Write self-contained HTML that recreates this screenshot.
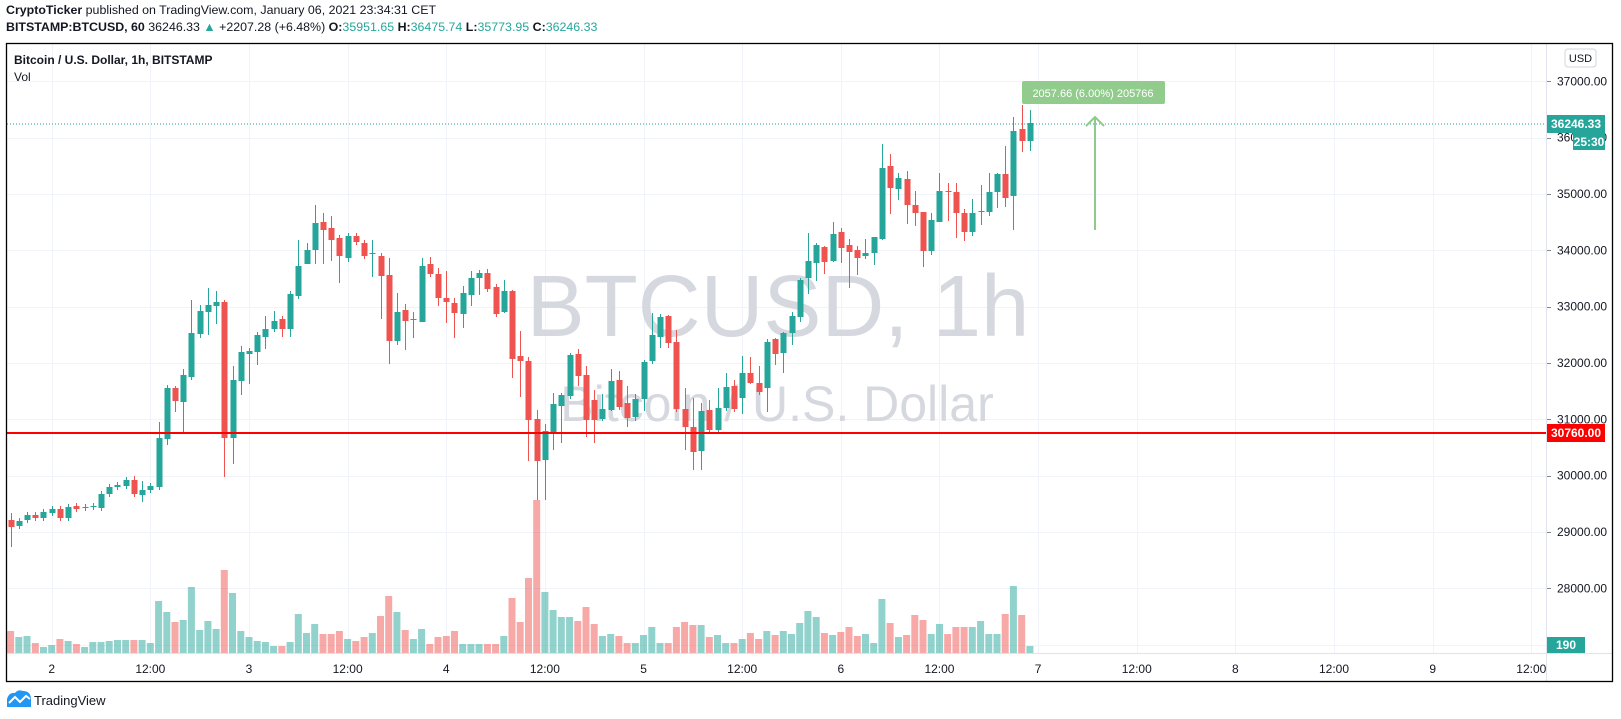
<!DOCTYPE html>
<html><head><meta charset="utf-8"><style>
html,body{margin:0;padding:0;background:#fff;width:1621px;height:719px;overflow:hidden;font-family:"Liberation Sans",sans-serif;color:#131722}
.hdr{position:absolute;left:6px;font-size:12.4px;white-space:nowrap}
.t{color:#26a69a}
</style></head><body>
<div class="hdr" style="top:3px"><b>CryptoTicker</b> published on TradingView.com, January 06, 2021 23:34:31 CET</div>
<div class="hdr" style="top:20px"><b>BITSTAMP:BTCUSD, 60</b> 36246.33 <span class="t">▲</span> +2207.28 (+6.48%) <b>O:</b><span class="t">35951.65</span> <b>H:</b><span class="t">36475.74</span> <b>L:</b><span class="t">35773.95</span> <b>C:</b><span class="t">36246.33</span></div>
<svg id="s" width="1621" height="719" style="position:absolute;left:0;top:0" xmlns="http://www.w3.org/2000/svg" font-family="Liberation Sans, sans-serif"></svg>
<script>
var G='#26a69a',R='#ef5350';
var C=[
[-5,520,527,513,547],[-4,526,521],[-3,520,515],[-2,515,518],[-1,518,512],[0,513,509],[1,509,518],[2,518,507],[3,506,509],[4,508,507],[5,507,506],[6,508,494],[7,494,487],[8,487,485],[9,486,480],[10,480,494,476],[11,495,490,481,502],[12,490,486],[13,487,438,422],[14,439,388,0,445],[15,388,401,386,412],[16,402,375,369,434],[17,377,333,300],[18,334,311,305,338],[19,312,305,288,335],[20,306,302,291,324],[21,302,438,300,477],[22,438,380,366,464],[23,381,352,346,395],[24,354,351,0,384],[25,352,335,0,365],[26,337,329,316,349],[27,329,321,311],[28,319,329,0,337],[29,329,294,0,337],[30,296,266,240],[31,264,250,243,263],[32,250,223,205,264],[33,222,230,213,264],[34,228,240,216,261],[35,238,256,0,283],
[36,258,236,0,262],[37,236,242],[38,243,256],[39,254,253,240,277],[40,256,276,253,319],[41,275,341,258,364],[42,341,312,293,345],[43,310,321,304,350],[44,320,319,312,338],[45,322,266,258,322],[46,264,274,257],[47,274,298,268,306],[48,298,302,271,323],[49,303,313,298,338],[50,314,293,286,328],[51,295,278,271,306],[52,278,273,0,295],[53,273,289,269],[54,287,314],[55,312,291,280,313],[56,291,359,290,378],[57,356,361,331,397],[58,361,420,357,461],[59,419,461,410,500],[60,460,431,424,500],[61,432,404,393,450],[62,406,395,393,443],[63,396,355,353],[64,354,376,349,386],[65,375,420,366,437],[66,400,420,390,443],[67,419,409,394,421],[68,410,381,369,411],[69,380,407,371,410],[70,403,418,386,427],[71,417,399,394,421],[72,399,362,360,411],[73,361,335,313,364],[74,337,317,314,348],[75,316,343,315,348],
[76,342,409,330],[77,409,427,388,450],[78,427,452,398,470],[79,451,411,403,470],[80,410,430,400,432],[81,430,408,388,432],[82,408,387,373],[83,386,409,380,412],[84,398,373,356,414],[85,373,383,357,384],[86,383,392,366,395],[87,388,342,339,412],[88,339,354,338,365],[89,353,333,332,373],[90,333,316,312,345],[91,317,280,278,322],[92,278,261,233,294],[93,263,245,243,281],[94,247,262,246,274],[95,261,234,222,262],[96,232,248,228,263],[97,245,252,239,288],[98,250,258,246,275],[99,256,253,239,259],[100,253,237,237,265],[101,239,168,144,240],[102,166,188,154,214],[103,189,178,173,200],[104,179,205,171,224],[105,205,213,191,226],[106,212,251,212,267],[107,251,220,213,255],[108,222,191,173,222],[109,191,192,183,221],[110,192,213,183,238],[111,213,232,209,241],[112,232,213,199,236],[113,212,211,185,225],[114,212,192,173,216],[115,192,174,173,208],[116,174,198,146,207],[117,196,131,117,230],[118,129,141,105,152],[119,141,123,110,151]];
var V={'-5':631,'-4':637,'-3':636,'-2':643,'-1':647,0:645,1:639,2:641,3:644,4:647,5:642,6:642,7:641,8:640,9:640,10:640,11:640,12:643,13:601,14:612,15:622,16:620,17:587,18:630,19:621,20:629,21:570,22:593,23:631,24:637,25:641,26:642,27:646,28:646,29:642,30:614,31:633,32:624,33:634,34:634,35:631,36:639,37:641,38:637,39:633,40:616,41:596,42:612,43:630,44:639,45:629,46:644,47:637,48:636,49:631,50:644,51:644,52:644,53:644,54:644,55:636,56:598,57:622,58:578,59:500,60:592,61:610,62:617,63:617,64:621,65:607,66:624,67:636,68:634,69:636,70:643,71:643,72:635,73:627,74:643,75:643,76:627,77:622,78:625,79:625,80:637,81:635,82:643,83:643,84:639,85:633,86:639,87:631,88:635,89:631,90:634,91:623,92:611,93:617,94:633,95:635,96:632,97:627,98:636,99:634,100:643,101:599,102:623,103:637,104:635,105:615,106:620,107:634,108:624,109:634,110:627,111:627,112:627,113:621,114:634,115:634,116:614,117:586,118:615,119:646};
function X(h){return 51.7+8.22*h}
function Y(p){return 419.3-(p-31000)*0.05633}
var o='';
o+='<defs><clipPath id="cp"><rect x="7" y="44" width="1539" height="609"/></clipPath></defs>';
o+='<g clip-path="url(#cp)">';
for(var p=27000;p<=37000;p+=1000){var y=Math.round(Y(p))+.5;o+='<line x1="7" x2="1546" y1="'+y+'" y2="'+y+'" stroke="#f0f3fa" stroke-width="1"/>';}
for(var h=0;h<=180;h+=12){var x=Math.round(X(h))+.5;o+='<line x1="'+x+'" x2="'+x+'" y1="44" y2="653" stroke="#f0f3fa"/>';}
o+='<text x="778" y="336" font-size="87" fill="#d1d4dc" fill-opacity=".9" text-anchor="middle">BTCUSD, 1h</text>';
o+='<text x="777" y="421" font-size="50" fill="#d1d4dc" fill-opacity=".9" text-anchor="middle">Bitcoin / U.S. Dollar</text>';
C.forEach(function(c){var h=c[0];var col=c[2]<=c[1]?'rgba(38,166,154,0.5)':'rgba(239,83,80,0.5)';var t=V[h];if(t===undefined)t=643;var x=X(h);o+='<rect x="'+(x-3.5).toFixed(1)+'" y="'+t+'" width="7" height="'+(653-t)+'" fill="'+col+'"/>';});
C.forEach(function(c){var h=c[0],op=c[1],cl=c[2];var col=cl<=op?G:R;var top=Math.min(op,cl),bot=Math.max(op,cl);var hi=c[3]||top-3,lo=c[4]||bot+3;if(hi>top)hi=top;if(lo<bot)lo=bot;var x=Math.round(X(h));o+='<line x1="'+(x+.5)+'" x2="'+(x+.5)+'" y1="'+hi+'" y2="'+lo+'" stroke="'+col+'"/>';o+='<rect x="'+(x-2.5)+'" y="'+top+'" width="6" height="'+Math.max(1,bot-top)+'" fill="'+col+'"/>';});
o+='<line x1="7" x2="1546" y1="124" y2="124" stroke="#26a69a" stroke-dasharray="1,2"/>';
o+='<line x1="7" x2="1546" y1="433" y2="433" stroke="#ff0000" stroke-width="2"/>';
o+='<rect x="1022" y="81" width="143" height="23" rx="2" fill="#91cc8c"/>';
o+='<text x="1093" y="97" font-size="11" fill="#fff" text-anchor="middle">2057.66 (6.00%) 205766</text>';
o+='<line x1="1095" x2="1095" y1="118" y2="230" stroke="#8ecb88" stroke-width="2"/>';
o+='<polyline points="1086,126 1095,117 1104,126" fill="none" stroke="#8ecb88" stroke-width="2"/>';
o+='</g>';
o+='<line x1="1546.5" x2="1546.5" y1="43" y2="682" stroke="#e0e3eb"/>';
o+='<line x1="6" x2="1612" y1="653.5" y2="653.5" stroke="#e0e3eb"/>';
o+='<rect x="6.5" y="43.5" width="1606" height="638" fill="none" stroke="#000" stroke-width="1.3"/>';
for(var p=28000;p<=37000;p+=1000){var y=Y(p);o+='<line x1="1547" x2="1551" y1="'+(Math.round(y)+.5)+'" y2="'+(Math.round(y)+.5)+'" stroke="#888"/>';o+='<text x="1557" y="'+(y+4)+'" font-size="12" fill="#131722">'+p+'.00</text>';}
o+='<rect x="1565" y="49" width="31" height="18" rx="3" fill="#fff" stroke="#d1d4dc"/><text x="1580.5" y="62" font-size="11" text-anchor="middle" fill="#131722">USD</text>';
o+='<rect x="1547" y="115" width="58" height="18" fill="#26a69a"/><text x="1576" y="128" font-size="12" font-weight="bold" fill="#fff" text-anchor="middle">36246.33</text>';
o+='<rect x="1573" y="133" width="32" height="17" fill="#26a69a"/><text x="1589" y="146" font-size="12" font-weight="bold" fill="#fff" text-anchor="middle">25:30</text>';
o+='<rect x="1547" y="424" width="58" height="18" fill="#ff0000"/><text x="1576" y="437" font-size="12" font-weight="bold" fill="#fff" text-anchor="middle">30760.00</text>';
o+='<rect x="1547" y="637" width="38" height="16" fill="#26a69a"/><text x="1566" y="649" font-size="12" font-weight="bold" fill="#fff" text-anchor="middle">190</text>';
var L=['2','12:00','3','12:00','4','12:00','5','12:00','6','12:00','7','12:00','8','12:00','9','12:00'];
for(var i=0;i<L.length;i++){o+='<text x="'+X(i*12)+'" y="673" font-size="12" fill="#131722" text-anchor="middle">'+L[i]+'</text>';}
o+='<text x="14" y="64" font-size="12" font-weight="bold" fill="#131722">Bitcoin / U.S. Dollar, 1h, BITSTAMP</text>';
o+='<text x="14" y="81" font-size="12" fill="#131722">Vol</text>';
o+='<path d="M7,707 L7,699 Q9,692 15,693 Q18,689 23,691 Q30,691 31,698 L31,707 Z" fill="#2196f3"/>';
o+='<polyline points="9,703 15,697 20,702 26,696 30,699" fill="none" stroke="#fff" stroke-width="2"/>';
o+='<text x="34" y="705" font-size="13" fill="#131722">TradingView</text>';
document.getElementById('s').innerHTML=o;
</script>
</body></html>
